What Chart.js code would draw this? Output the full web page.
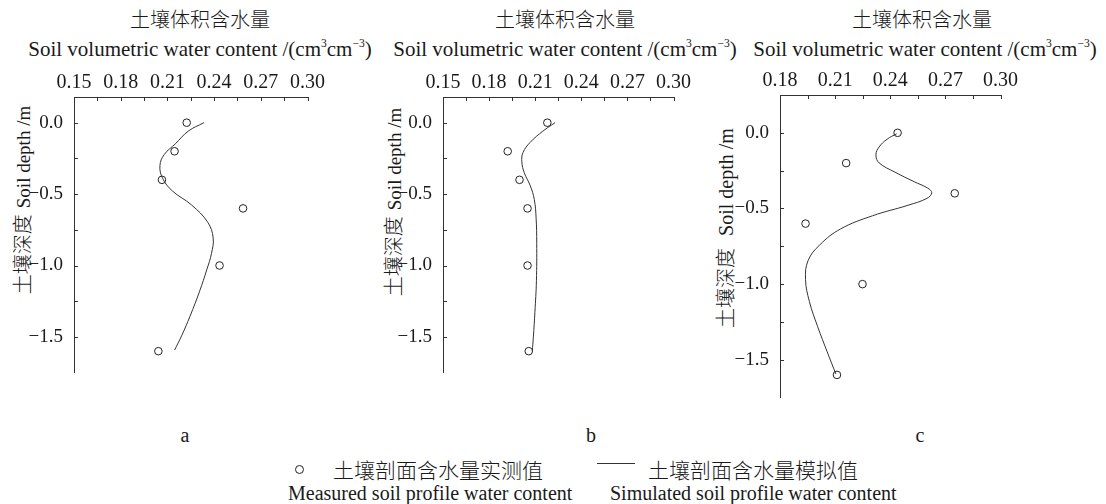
<!DOCTYPE html>
<html><head><meta charset="utf-8">
<script src="https://cdn.jsdelivr.net/npm/chart.js@4.4.1/dist/chart.umd.min.js"></script>
<style>
html,body{margin:0;padding:0;background:#fff;}
body{width:1106px;height:504px;position:relative;overflow:hidden;font-family:"Liberation Serif","Noto Sans CJK SC",serif;color:#1a1a1a;}
canvas{position:absolute;}
.t{position:absolute;white-space:nowrap;transform:translate(-50%,-50%);line-height:1;}
.l{position:absolute;white-space:nowrap;transform:translate(0,-50%);line-height:1;}
.cn{font-family:"Noto Sans CJK SC",sans-serif;font-weight:300;}
sup{font-size:0.55em;vertical-align:0.75em;line-height:0;}
.yt{position:absolute;white-space:nowrap;transform:translate(-50%,-50%) rotate(-90deg);line-height:1;}
</style></head><body>

<div class="t cn" style="left:200px;top:19px;font-size:20px;">土壤体积含水量</div>
<div class="t" style="left:200px;top:49px;font-size:21px;">Soil volumetric water content /(cm<sup>3</sup>cm<sup>−3</sup>)</div>
<div class="t cn" style="left:565px;top:19px;font-size:20px;">土壤体积含水量</div>
<div class="t" style="left:565px;top:49px;font-size:21px;">Soil volumetric water content /(cm<sup>3</sup>cm<sup>−3</sup>)</div>
<div class="t cn" style="left:922px;top:19px;font-size:20px;">土壤体积含水量</div>
<div class="t" style="left:925px;top:49px;font-size:21px;">Soil volumetric water content /(cm<sup>3</sup>cm<sup>−3</sup>)</div>

<div class="yt" style="left:22px;top:200px;"><span class="cn" style="font-size:20px;">土壤深度</span><span style="font-size:19px;margin-left:6px;">Soil depth /m</span></div>
<div class="yt" style="left:393px;top:202px;"><span class="cn" style="font-size:20px;">土壤深度</span><span style="font-size:19px;margin-left:6px;">Soil depth /m</span></div>
<div class="yt" style="left:725px;top:228px;"><span class="cn" style="font-size:20px;">土壤深度</span><span style="font-size:20px;margin-left:12px;">Soil depth /m</span></div>

<canvas id="ca" width="327" height="335" style="left:0px;top:60px;"></canvas>
<canvas id="cb" width="324" height="335" style="left:369px;top:60px;"></canvas>
<canvas id="cc" width="314" height="360" style="left:706px;top:60px;"></canvas>

<div class="t" style="left:185px;top:435px;font-size:20px;">a</div>
<div class="t" style="left:591px;top:435px;font-size:20px;">b</div>
<div class="t" style="left:920px;top:435px;font-size:20px;">c</div>

<div style="position:absolute;left:295px;top:465px;width:7px;height:7px;border:1px solid #222;border-radius:50%;"></div>
<div class="l cn" style="left:333px;top:469px;font-size:21px;">土壤剖面含水量实测值</div>
<div style="position:absolute;left:597px;top:463px;width:38px;height:1px;background:#333;"></div>
<div class="l cn" style="left:648px;top:469px;font-size:21px;">土壤剖面含水量模拟值</div>
<div class="l" style="left:288px;top:493px;font-size:20px;">Measured soil profile water content</div>
<div class="l" style="left:610px;top:493px;font-size:20px;">Simulated soil profile water content</div>

<script>
// ---- data ----
const measuredDepth = [0, -0.2, -0.4, -0.6, -1.0, -1.6];
const measuredA = [0.2224, 0.2146, 0.2065, 0.2586, 0.2435, 0.2042];
const measuredB = [0.2179, 0.1921, 0.1998, 0.2050, 0.2050, 0.2058];
const measuredC = [0.2440, 0.2160, 0.2751, 0.1939, 0.2249, 0.2110];

const simDepthA = [0, -0.059, -0.147, -0.224, -0.301, -0.389, -0.477, -0.576, -0.697, -0.807, -0.916, -1.026, -1.18, -1.356, -1.488, -1.593];
const simA = [0.2334, 0.2234, 0.2152, 0.2079, 0.2052, 0.2069, 0.2131, 0.2255, 0.2359, 0.2394, 0.2383, 0.2354, 0.2307, 0.2245, 0.2193, 0.2146];

const simDepthB = [0, -0.059, -0.138, -0.208, -0.274, -0.351, -0.439, -0.537, -0.669, -0.844, -1.107, -1.327, -1.502, -1.601];
const simB = [0.2229, 0.2150, 0.2067, 0.2021, 0.2013, 0.2029, 0.2067, 0.2094, 0.2106, 0.2110, 0.2108, 0.2098, 0.2088, 0.2081];

const simDepthC = [-0.006, -0.042, -0.094, -0.146, -0.198, -0.26, -0.323, -0.365, -0.396, -0.433, -0.479, -0.548, -0.635, -0.74, -0.844, -0.969, -1.115, -1.281, -1.448, -1.594];
const simC = [0.2435, 0.2383, 0.2339, 0.2322, 0.2339, 0.2426, 0.2530, 0.2603, 0.2626, 0.2600, 0.2496, 0.2304, 0.2130, 0.2017, 0.1953, 0.1939, 0.1960, 0.2005, 0.2057, 0.2104];

const xTicksAB = [0.15, 0.18, 0.21, 0.24, 0.27, 0.30];
const xTicksC = [0.18, 0.21, 0.24, 0.27, 0.30];
const yTicks = [-1.5, -1.0, -0.5, 0.0];
const yTickLabels = ['−1.5', '−1.0', '−0.5', '0.0'];

// ---- helpers ----
function zip(xs, ys) { return xs.map((v, i) => ({ x: v, y: ys[i] })); }
function withMinor(vals) {
  const out = [];
  for (let i = 0; i < vals.length; i++) {
    out.push(vals[i]);
    if (i < vals.length - 1) out.push((vals[i] + vals[i + 1]) / 2);
  }
  return out;
}

const inwardTicks = {
  id: 'inwardTicks',
  afterDraw(chart) {
    const { ctx, chartArea, scales } = chart;
    const xs = scales.x, ys = scales.y;
    ctx.save();
    ctx.strokeStyle = '#333';
    ctx.lineWidth = 1;
    withMinor(xs.ticks.map(t => t.value)).forEach(v => {
      const px = Math.round(xs.getPixelForValue(v)) + 0.5;
      ctx.beginPath(); ctx.moveTo(px, chartArea.top); ctx.lineTo(px, chartArea.top + 4); ctx.stroke();
    });
    withMinor(ys.ticks.map(t => t.value)).forEach(v => {
      const py = Math.round(ys.getPixelForValue(v)) + 0.5;
      ctx.beginPath(); ctx.moveTo(chartArea.left, py); ctx.lineTo(chartArea.left + 4, py); ctx.stroke();
    });
    ctx.restore();
  }
};

const FONT = "Liberation Serif";
Chart.defaults.font.family = FONT;
Chart.defaults.font.size = 22;

function makePanel(id, measured, simX, simY, xMin, xMax, xTicks, yMin, yMax, xH) {
  new Chart(document.getElementById(id), {
    type: 'scatter',
    data: {
      datasets: [
        {
          label: '土壤剖面含水量模拟值',
          data: zip(simX, simY),
          showLine: true,
          tension: 0.4,
          borderColor: '#333',
          borderWidth: 1,
          pointRadius: 0,
          fill: false
        },
        {
          label: '土壤剖面含水量实测值',
          data: zip(measured, measuredDepth),
          showLine: false,
          pointStyle: 'circle',
          pointRadius: 3.8,
          pointBorderWidth: 1,
          pointBorderColor: '#222',
          pointBackgroundColor: 'rgba(255,255,255,0)'
        }
      ]
    },
    options: {
      responsive: false,
      animation: false,
      events: [],
      layout: { padding: { left: 0, top: 0, right: 10, bottom: 5 } },
      plugins: { legend: { display: false }, tooltip: { enabled: false } },
      scales: {
        x: {
          type: 'linear', position: 'top', min: xMin, max: xMax,
          afterBuildTicks: s => { s.ticks = xTicks.map(v => ({ value: v })); },
          afterFit: s => { s.height = xH; },
          ticks: {
            padding: 2, color: '#1a1a1a', maxRotation: 0, autoSkip: false,
            font: { family: FONT, size: 20 },
            callback: v => v.toFixed(2)
          },
          grid: { display: true, drawOnChartArea: false, drawTicks: false },
          border: { display: true, color: '#333', width: 1 }
        },
        y: {
          type: 'linear', position: 'left', min: yMin, max: yMax,
          afterBuildTicks: s => { s.ticks = yTicks.map(v => ({ value: v })); },
          afterFit: s => { s.width = 74; },
          ticks: {
            padding: 11, color: '#1a1a1a', autoSkip: false,
            font: { family: FONT, size: 19 },
            callback: (v, i) => yTickLabels[i]
          },
          grid: { display: true, drawOnChartArea: false, drawTicks: false },
          border: { display: true, color: '#333', width: 1 }
        }
      }
    },
    plugins: [inwardTicks]
  });
}

makePanel('ca', measuredA, simA, simDepthA, 0.15, 0.30, xTicksAB, -1.75, 0.18, 37);
makePanel('cb', measuredB, simB, simDepthB, 0.15, 0.30, xTicksAB, -1.75, 0.18, 37);
makePanel('cc', measuredC, simC, simDepthC, 0.18, 0.30, xTicksC, -1.75, 0.25, 35);
</script>
</body></html>
